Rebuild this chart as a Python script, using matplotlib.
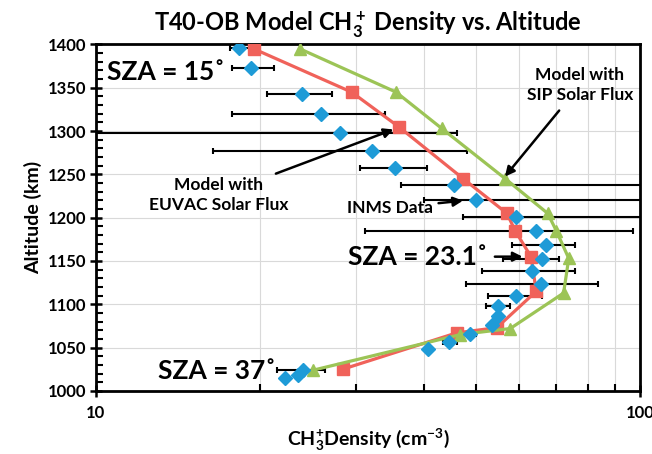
import numpy as np
import matplotlib.pyplot as plt
from matplotlib.ticker import FixedLocator, NullFormatter

plt.rcParams['font.family'] = ['Lato', 'DejaVu Sans']
plt.rcParams['mathtext.fontset'] = 'custom'
plt.rcParams['mathtext.rm'] = 'Lato:bold'
plt.rcParams['mathtext.bf'] = 'Lato:bold'
plt.rcParams['mathtext.it'] = 'Lato:bold'
plt.rcParams['mathtext.default'] = 'rm'

# ─── Model curves ─────────────────────────────────────────────────
euvac_alt = [1395, 1345, 1305, 1245, 1205, 1185, 1155, 1115, 1073, 1067, 1025]
euvac_den = [19.5, 29.5, 36.0, 47.3, 56.9, 58.9, 63.0, 64.4, 54.5, 46.0, 28.4]

sip_alt = [1395, 1345, 1303, 1245, 1205, 1185, 1153, 1113, 1072, 1065, 1024]
sip_den = [23.7, 35.6, 43.2, 56.5, 67.6, 70.1, 73.9, 72.3, 57.7, 46.7, 25.1]

# ─── INMS data with error bar ends ────────────────────────────────
inms_alt = [1396, 1373, 1343, 1320, 1298, 1277, 1257, 1238, 1220, 1201,
            1185, 1168, 1152, 1138, 1124, 1110, 1098, 1087, 1076, 1066,
            1057, 1048, 1024, 1018, 1015]
inms_den = [18.3, 19.3, 23.9, 25.9, 28.1, 32.1, 35.5, 45.4, 50.0, 59.2,
            64.4, 67.1, 66.0, 63.2, 65.7, 59.2, 54.9, 54.7, 53.4, 48.7,
            44.6, 40.7, 24.0, 23.5, 22.3]
inms_lo = [17.6, 17.8, 20.6, 17.75, 9.0, 16.4, 30.6, 36.3, 40.0, 47.3,
           31.2, 58.1, 56.0, 51.2, 47.9, 52.6, 52.0, 54.7, 53.4, 48.0,
           43.5, 40.7, 21.5, 23.5, 22.3]
inms_hi = [19.2, 21.2, 27.2, 34.0, 46.0, 48.0, 40.5, 150, 150, 150,
           97.0, 75.9, 71.0, 75.9, 83.8, 66.0, 57.7, 54.7, 53.4, 50.0,
           46.0, 40.7, 26.4, 23.5, 22.3]

RED = '#F0625A'
GREEN = '#9CC456'
BLUE = '#1E9BD7'

fig = plt.figure(figsize=(6.52, 4.54), dpi=100)
ax = fig.add_axes([0.147, 0.139, 0.835, 0.763])

den = np.array(inms_den)
xerr = [den - np.array(inms_lo), np.array(inms_hi) - den]
ax.errorbar(inms_den, inms_alt, xerr=xerr, fmt='none', ecolor='black',
            elinewidth=1.5, capsize=2.5, capthick=1.5, zorder=2)

ax.plot(euvac_den, euvac_alt, color=RED, lw=2.3, marker='s', ms=8,
        mec=RED, mfc=RED, zorder=3)
ax.plot(sip_den, sip_alt, color=GREEN, lw=2.3, marker='^', ms=9,
        mec=GREEN, mfc=GREEN, zorder=3)
ax.plot(inms_den, inms_alt, ls='none', marker='D', ms=7.5, color=BLUE,
        mec=BLUE, zorder=4)

ax.set_xscale('log')
ax.set_xlim(10, 100)
ax.set_ylim(1000, 1400)
ax.set_yticks(np.arange(1000, 1401, 50))
ax.yaxis.set_minor_locator(FixedLocator(np.arange(1000, 1401, 10)))
ax.xaxis.set_major_locator(FixedLocator([10, 100]))
ax.xaxis.set_minor_locator(FixedLocator(np.arange(20, 100, 10)))
ax.xaxis.set_minor_formatter(NullFormatter())
ax.set_xticklabels(['10', '100'])

ax.grid(True, which='major', color='#d9d9d9', lw=0.8, zorder=0)
ax.grid(True, which='minor', axis='x', color='#d9d9d9', lw=0.8, zorder=0)
ax.set_axisbelow(True)

for s in ax.spines.values():
    s.set_linewidth(2)
ax.tick_params(which='major', direction='inout', length=8, width=1.8,
               labelsize=12)
ax.tick_params(which='minor', direction='in', length=5, width=1.5)
ax.tick_params(axis='x', which='major', pad=6)
ax.tick_params(axis='y', which='major', pad=3)
for lab in ax.get_xticklabels() + ax.get_yticklabels():
    lab.set_fontweight('bold')

ax.set_title(r'T40-OB Model CH$_3^+$ Density vs. Altitude',
             fontsize=17, fontweight='bold', pad=9)
ax.set_ylabel('Altitude (km)', fontsize=14, fontweight='bold', labelpad=4)
ax.set_xlabel(r'CH$_3^{+}$Density (cm$^{-3}$)', fontsize=14,
              fontweight='bold', labelpad=4)

# ─── Annotations ──────────────────────────────────────────────────
ax.text(10.5, 1368, 'SZA = 15˚', fontsize=19, fontweight='bold',
        va='center', ha='left')
ax.text(21.4, 1023, 'SZA = 37˚', fontsize=19, fontweight='bold',
        va='center', ha='right')
ax.annotate('SZA = 23.1˚', xy=(61.5, 1155), xytext=(52.5, 1155),
            fontsize=19, fontweight='bold', va='center', ha='right',
            arrowprops=dict(arrowstyle='-|>', color='black', lw=1.8,
                            mutation_scale=14, shrinkA=3))
ax.annotate('Model with\nSIP Solar Flux', xy=(56.0, 1245),
            xytext=(77.5, 1353), fontsize=12.5, fontweight='bold',
            ha='center', va='center', linespacing=1.35,
            arrowprops=dict(arrowstyle='-|>', color='black', lw=1.8,
                            mutation_scale=14, shrinkA=4))
ax.annotate('Model with\nEUVAC Solar Flux', xy=(35.6, 1303),
            xytext=(16.8, 1226), fontsize=12.5, fontweight='bold',
            ha='center', va='center', linespacing=1.35,
            arrowprops=dict(arrowstyle='-|>', color='black', lw=1.8,
                            mutation_scale=14, shrinkA=1))
ax.annotate('INMS Data', xy=(47.8, 1220), xytext=(34.7, 1211),
            fontsize=12.5, fontweight='bold', ha='center', va='center',
            arrowprops=dict(arrowstyle='-|>', color='black', lw=1.8,
                            mutation_scale=14, shrinkA=2))

fig.savefig('out.png', dpi=100)
